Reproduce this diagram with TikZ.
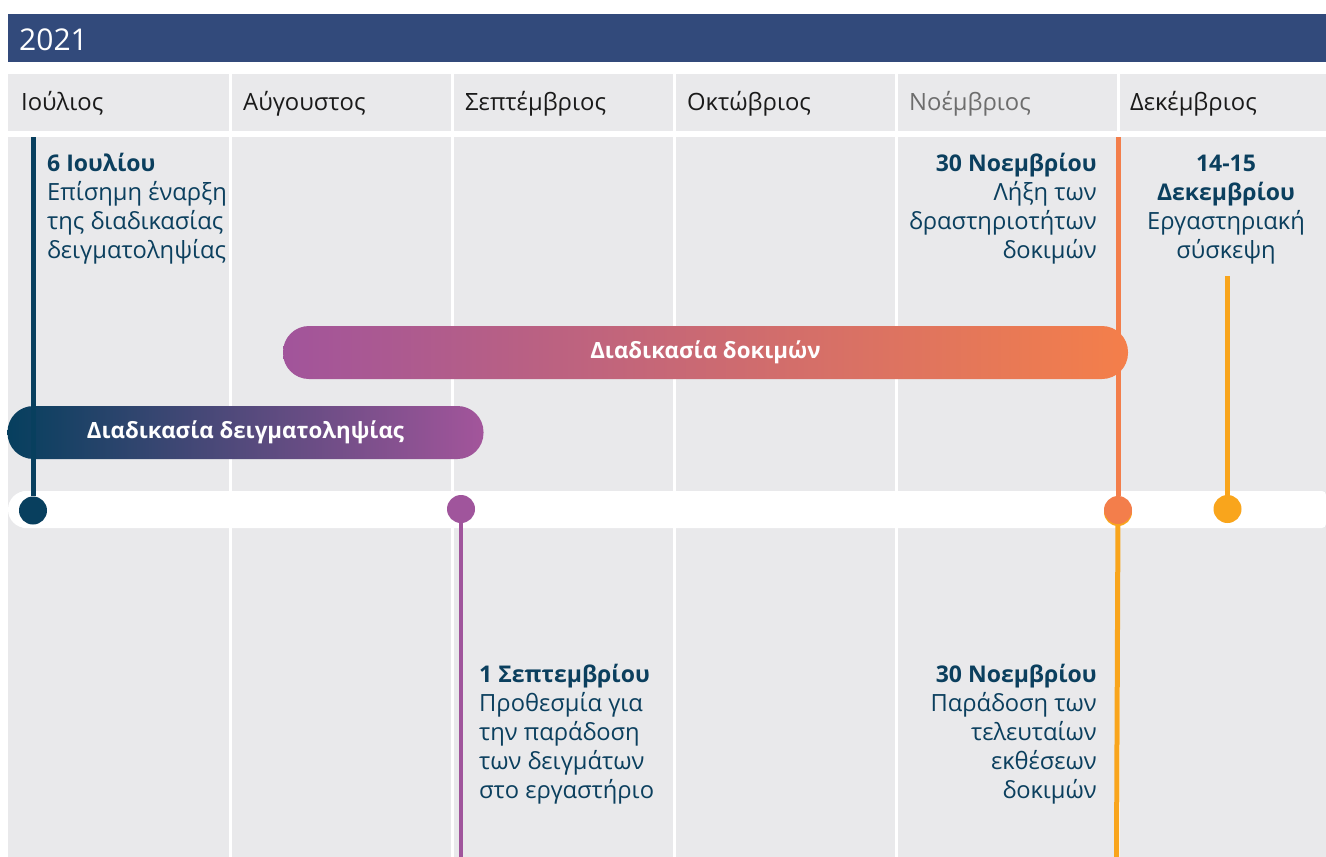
\documentclass[tikz,border=0pt]{standalone}
\usepackage{fontspec}
\setmainfont{Open Sans}
\definecolor{hdr}{HTML}{324A7B}
\definecolor{cellgray}{HTML}{E9E9EB}
\definecolor{teal}{HTML}{0B3F5E}
\definecolor{monthc}{HTML}{1A1A1A}
\definecolor{monthgray}{HTML}{6D6D6D}
\definecolor{navy}{HTML}{083F5E}
\definecolor{purplec}{HTML}{A0559C}
\definecolor{orangec}{HTML}{F37E4B}
\definecolor{yellowc}{HTML}{F9A51C}
\definecolor{barAl}{HTML}{A1549B}
\definecolor{barAr}{HTML}{F47F4A}
\definecolor{barBl}{HTML}{063F5E}
\definecolor{barBr}{HTML}{A3559B}
\newcommand{\hd}[1]{{\fontsize{23}{29}\selectfont\bfseries #1}}
\begin{document}
\begin{tikzpicture}[x=1pt,y=-1pt,
  monthtxt/.style={anchor=base west, inner sep=0, font=\fontsize{23.8}{29}\selectfont, text=monthc},
  evtxt/.style={inner sep=0, font=\fontsize{23.7}{29}\selectfont, text=teal},
  bartxt/.style={shade, inner sep=0, rounded corners=26, minimum height=53, text=white, font=\bfseries\fontsize{22.3}{29}\selectfont},
  dot/.style={circle, inner sep=0, minimum size=28},
  vline/.style={line width=5}]
\fill[white] (0,0) rectangle (1326,857);
\useasboundingbox (0,0) rectangle (1326,857);
% header
\fill[hdr] (8,14) rectangle (1326,62);
\node[anchor=base west, inner sep=0, text=white, font=\fontsize{30}{34}\selectfont] (year) at (19,50) {2021};
% columns
\foreach \x/\w in {8/221, 232/219, 454/219, 676/219, 898/219, 1120/206}{
  \fill[cellgray] (\x,74) rectangle ++(\w,57);
  \fill[cellgray] (\x,137) rectangle ++(\w,720);
}
\node[monthtxt] (m1) at (21,110) {Ιούλιος};
\node[monthtxt] (m2) at (243,110) {Αύγουστος};
\node[monthtxt] (m3) at (465,110) {Σεπτέμβριος};
\node[monthtxt] (m4) at (687,110) {Οκτώβριος};
\node[monthtxt, text=monthgray] (m5) at (909,110) {Νοέμβριος};
\node[monthtxt] (m6) at (1130,110) {Δεκέμβριος};
% timeline band
\fill[white] (26.5,509.5) circle[radius=18.5];
\fill[white, rounded corners=4] (20,491) rectangle (1326,528);
% bars
\node[bartxt, left color=barAl, right color=barAr, minimum width=845] (barA) at (705.5,352.5) {Διαδικασία δοκιμών};
\node[bartxt, left color=barBl, right color=barBr, minimum width=476] (barB) at (245.5,432.5) {Διαδικασία δειγματοληψίας};
% dots
\node[dot, fill=navy] (d1) at (33,510.5) {};
\node[dot, fill=purplec] (d2) at (461,509) {};
\node[dot, fill=yellowc] (d3b) at (1118,512) {};
\node[dot, fill=orangec] (d3) at (1118,510) {};
\node[dot, fill=yellowc] (d4) at (1227.5,509) {};
% lines
\coordinate (navytop) at (33,137);
\coordinate (purplebot) at (461,857);
\coordinate (orangetop) at (1118,137);
\coordinate (yellowtop) at (1227.5,276);
\coordinate (yellowbot) at (1116.5,857);
\draw[vline, navy] (navytop) -- (d1);
\draw[vline, purplec, line width=4.5] (d2) -- (purplebot);
\draw[vline, orangec] (orangetop) -- (d3);
\draw[vline, yellowc] (yellowtop) -- (d4);
\draw[vline, yellowc] (d3b) -- (yellowbot);
% event texts
\node[evtxt, anchor=north west, align=left] (e1) at (47,150.7)
  {\strut\hd{6 Ιουλίου}\\Επίσημη έναρξη\\της διαδικασίας\\δειγματοληψίας};
\node[evtxt, anchor=north east, align=right] (e2) at (1097,150.7)
  {\strut\hd{30 Νοεμβρίου}\\Λήξη των\\δραστηριοτήτων\\δοκιμών};
\node[evtxt, anchor=north, align=center] (e3) at (1226,150.7)
  {\strut\hd{14-15}\\\hd{Δεκεμβρίου}\\Εργαστηριακή\\σύσκεψη};
\node[evtxt, anchor=north west, align=left] (e4) at (479,661.7)
  {\strut\hd{1 Σεπτεμβρίου}\\Προθεσμία για\\την παράδοση\\των δειγμάτων\\στο εργαστήριο};
\node[evtxt, anchor=north east, align=right] (e5) at (1097,661.7)
  {\strut\hd{30 Νοεμβρίου}\\Παράδοση των\\τελευταίων\\εκθέσεων\\δοκιμών};
\end{tikzpicture}
\end{document}
